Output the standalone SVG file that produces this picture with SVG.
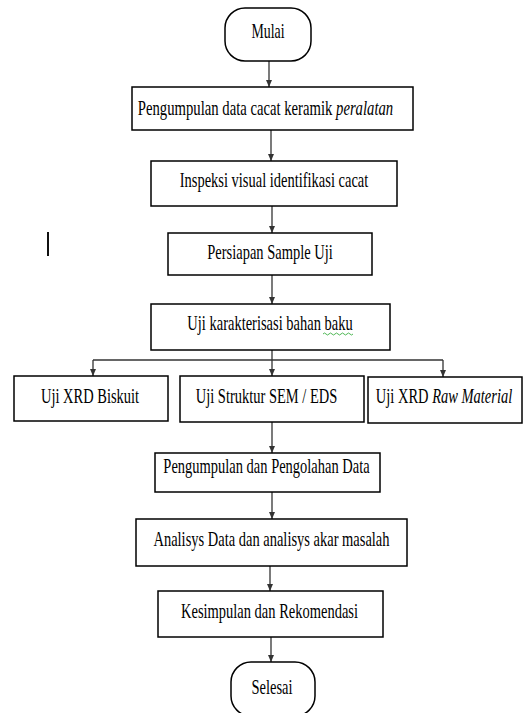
<svg xmlns="http://www.w3.org/2000/svg" width="529" height="713" viewBox="0 0 529 713">
<style>
.box{fill:#fff;stroke:#000;stroke-width:1.5}
.t{font-family:"Liberation Serif","Times New Roman",serif;font-size:21px;fill:#000;text-anchor:middle}
.i{font-style:italic}
.c{fill:none;stroke:#333;stroke-width:1.3}
</style>
<defs>
<marker id="ah" markerUnits="userSpaceOnUse" markerWidth="8" markerHeight="8" refX="7" refY="3" orient="auto">
<path d="M0,0 L7,3 L0,6 z" fill="#333"/>
</marker>
</defs>
<rect width="529" height="713" fill="#fff"/>
<g id="connectors">
<line class="c" x1="269" y1="61" x2="269" y2="87" marker-end="url(#ah)"/>
<line class="c" x1="271" y1="130" x2="271" y2="161" marker-end="url(#ah)"/>
<line class="c" x1="272" y1="206" x2="272" y2="233" marker-end="url(#ah)"/>
<line class="c" x1="272" y1="275" x2="272" y2="304" marker-end="url(#ah)"/>
<line class="c" x1="272" y1="350" x2="272" y2="360"/>
<line class="c" x1="93" y1="360" x2="443" y2="360"/>
<line class="c" x1="93" y1="360" x2="93" y2="376" marker-end="url(#ah)"/>
<line class="c" x1="272" y1="360" x2="272" y2="376" marker-end="url(#ah)"/>
<line class="c" x1="443" y1="360" x2="443" y2="377" marker-end="url(#ah)"/>
<line class="c" x1="272" y1="422" x2="272" y2="453" marker-end="url(#ah)"/>
<line class="c" x1="272" y1="492" x2="272" y2="519" marker-end="url(#ah)"/>
<line class="c" x1="270" y1="566" x2="270" y2="591" marker-end="url(#ah)"/>
<line class="c" x1="271" y1="637" x2="271" y2="662" marker-end="url(#ah)"/>
</g>
<g id="mulai">
<rect class="box" x="225" y="8" width="86" height="53" rx="20" ry="20"/>
<text class="t" transform="translate(268,38) scale(0.66,1)">Mulai</text>
</g>
<g id="n1">
<rect class="box" x="132" y="87" width="281" height="43"/>
<text class="t" transform="translate(265.5,115) scale(0.7,1)">Pengumpulan data cacat keramik <tspan class="i">peralatan</tspan></text>
</g>
<g id="n2">
<rect class="box" x="151" y="161" width="246" height="45"/>
<text class="t" transform="translate(274,187) scale(0.69,1)">Inspeksi visual identifikasi cacat</text>
</g>
<g id="n3">
<rect class="box" x="168" y="233" width="204" height="42"/>
<text class="t" transform="translate(270,259) scale(0.69,1)">Persiapan Sample Uji</text>
</g>
<g id="n4">
<rect class="box" x="151" y="304" width="239" height="46"/>
<text class="t" transform="translate(270,330) scale(0.69,1)">Uji karakterisasi bahan baku</text>
<path d="M323,334 q1.5,-2 3,0 t3,0 t3,0 t3,0 t3,0 t3,0 t3,0 t3,0 t3,0 t3,0" fill="none" stroke="#3cb043" stroke-width="0.9"/>
</g>
<g id="n5">
<rect class="box" x="14" y="376" width="154" height="45"/>
<text class="t" transform="translate(90,403) scale(0.69,1)">Uji XRD Biskuit</text>
</g>
<g id="n6">
<rect class="box" x="180" y="376" width="184" height="46"/>
<text class="t" transform="translate(266.5,403) scale(0.69,1)">Uji Struktur SEM / EDS</text>
</g>
<g id="n7">
<rect class="box" x="368" y="377" width="154" height="46"/>
<text class="t" transform="translate(444,403) scale(0.69,1)">Uji XRD <tspan class="i">Raw Material</tspan></text>
</g>
<g id="n8">
<rect class="box" x="155" y="453" width="225" height="39"/>
<text class="t" transform="translate(266.5,473) scale(0.69,1)">Pengumpulan dan Pengolahan Data</text>
</g>
<g id="n9">
<rect class="box" x="136" y="519" width="271" height="47"/>
<text class="t" transform="translate(271.5,546) scale(0.69,1)">Analisys Data dan analisys akar masalah</text>
</g>
<g id="n10">
<rect class="box" x="158" y="591" width="225" height="46"/>
<text class="t" transform="translate(269.5,618) scale(0.69,1)">Kesimpulan dan Rekomendasi</text>
</g>
<g id="selesai">
<rect class="box" x="231" y="662" width="84" height="54" rx="20" ry="20"/>
<text class="t" transform="translate(272,694) scale(0.69,1)">Selesai</text>
</g>
<rect x="47" y="232" width="2" height="24" fill="#111"/>
</svg>
